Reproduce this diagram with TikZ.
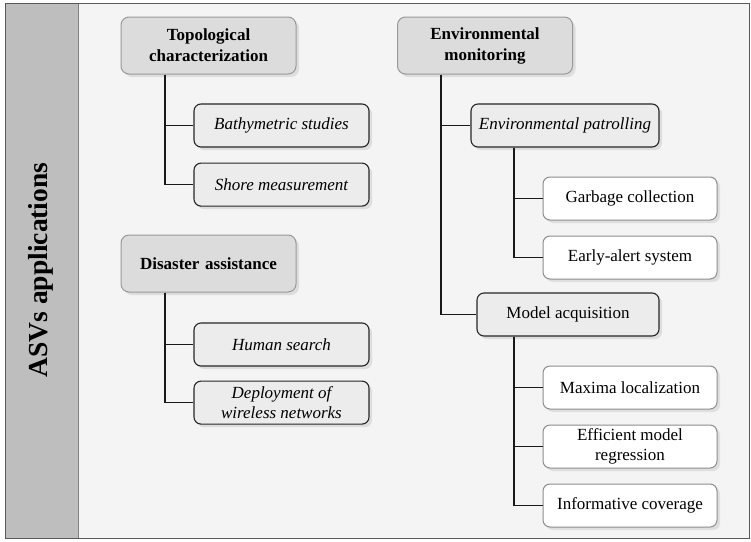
\documentclass[tikz,border=0pt]{standalone}
\usepackage{xcolor}
\usepackage{fontspec}
\setmainfont{Liberation Serif}
\usepackage{tikz}
\usetikzlibrary{shapes.geometric, positioning, shadows}

\definecolor{paper}{HTML}{F4F4F4}
\definecolor{band}{HTML}{BEBEBE}
\definecolor{topgray}{HTML}{DCDCDC}
\definecolor{midgray}{HTML}{ECECEC}

\begin{document}
\begin{tikzpicture}[x=1pt, y=-1pt]
\tikzstyle{topic} = [rectangle, draw=black!40, line width=1pt, fill=topgray, text width=165pt, align=center, minimum width=175pt, minimum height=57pt, rounded corners=8pt, font=\fontsize{17}{21}\selectfont\bfseries, drop shadow={shadow xshift=3pt, shadow yshift=-3pt, fill=black!22}]
\tikzstyle{task} = [rectangle, draw=black!85, line width=1.1pt, fill=midgray, align=center, minimum width=175pt, minimum height=43pt, rounded corners=7pt, font=\fontsize{17}{19}\selectfont\itshape, drop shadow={shadow xshift=3pt, shadow yshift=-3pt, fill=black!22}]
\tikzstyle{leaf} = [rectangle, draw=black!45, line width=1pt, fill=white, align=center, minimum width=174pt, minimum height=43pt, rounded corners=7pt, font=\fontsize{17}{19}\selectfont, drop shadow={shadow xshift=3pt, shadow yshift=-3pt, fill=black!20}]
\tikzstyle{link} = [draw=black!90, line width=1.2pt]

\useasboundingbox (0,0) rectangle (751,541);
\fill[paper] (5,3) rectangle (749,538);
\fill[band] (5,3) rectangle (78,538);
\draw[black!50, line width=1pt] (78,3) -- (78,538);
\draw[black!65, line width=1pt] (5,3) rectangle (749,538);
\node (title) [rotate=90, font=\fontsize{27.5}{30}\selectfont\bfseries] at (41,270) {ASVs applications};

% left column
\node (topo) [topic] at (208.5,45.5) {Topological\\characterization};
\node (bathy) [task] at (281.5,125.5) {Bathymetric studies};
\node (shore) [task, below=15pt of bathy] {Shore measurement};

\node (disaster) [topic] at (208.5,263.5) {Disaster assistance};
\node (human) [task] at (281.5,344.5) {Human search};
\node (deploy) [task, below=14pt of human, font=\fontsize{17}{20}\selectfont\itshape] {Deployment of\\wireless networks};

% right column
\node (envmon) [topic] at (485,45.5) {Environmental\\monitoring};
\node (patrol) [task, minimum width=188pt] at (565,125.5) {Environmental patrolling};
\node (garbage) [leaf] at (630,198.5) {Garbage collection};
\node (early) [leaf, below=15pt of garbage] {Early-alert system};

\node (modelacq) [task, minimum width=182pt, font=\fontsize{17}{19}\selectfont] at (568,314.5) {Model acquisition};
\node (maxima) [leaf] at (630,387.5) {Maxima localization};
\node (effic) [leaf, below=15pt of maxima, font=\fontsize{17}{20}\selectfont] {Efficient model\\regression};
\node (inform) [leaf, below=15pt of effic] {Informative coverage};

% connectors
\draw[link] ([xshift=44.5pt]topo.south west) |- (bathy.west);
\draw[link] ([xshift=44.5pt]topo.south west) |- (shore.west);
\draw[link] ([xshift=44.5pt]disaster.south west) |- (human.west);
\draw[link] ([xshift=44.5pt]disaster.south west) |- (deploy.west);
\draw[link] ([xshift=44pt]envmon.south west) |- (patrol.west);
\draw[link] ([xshift=44pt]envmon.south west) |- (modelacq.west);
\draw[link] ([xshift=43.5pt]patrol.south west) |- (garbage.west);
\draw[link] ([xshift=43.5pt]patrol.south west) |- (early.west);
\draw[link] ([xshift=37.5pt]modelacq.south west) |- (maxima.west);
\draw[link] ([xshift=37.5pt]modelacq.south west) |- (effic.west);
\draw[link] ([xshift=37.5pt]modelacq.south west) |- (inform.west);

\end{tikzpicture}
\end{document}
